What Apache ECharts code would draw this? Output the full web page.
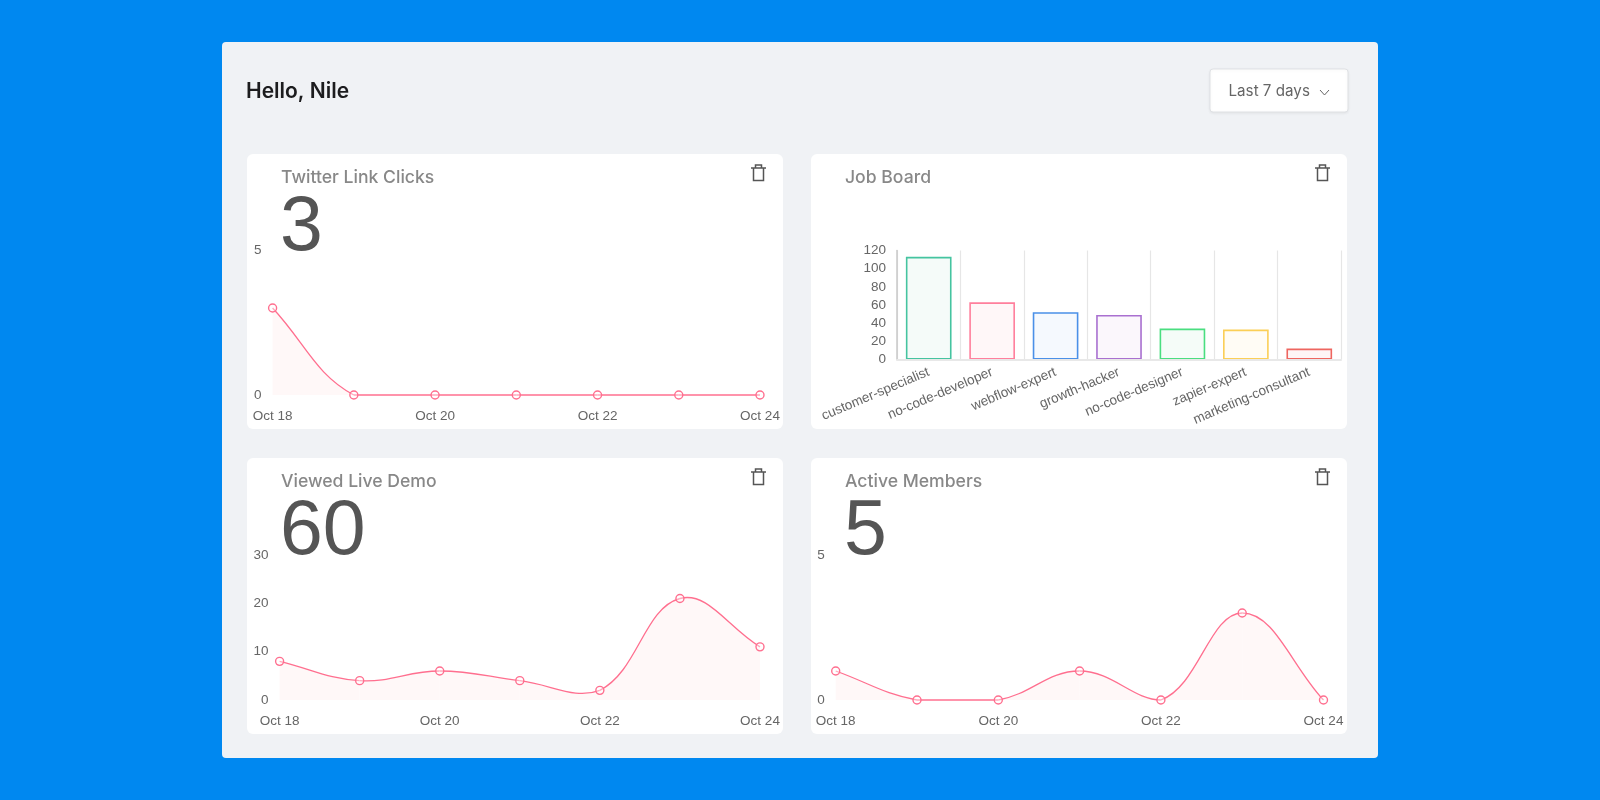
<!DOCTYPE html>
<html>
<head>
<meta charset="utf-8">
<title>Dashboard</title>
<script src="https://cdn.jsdelivr.net/npm/echarts@6/dist/echarts.min.js"></script>
<style>
  html, body { margin: 0; padding: 0; background: #0088f0; }
  #main { width: 1600px; height: 800px; }
</style>
</head>
<body>
<div id="main"></div>
<script>
// chart data
const days = ["Oct 18", "Oct 19", "Oct 20", "Oct 21", "Oct 22", "Oct 23", "Oct 24"];
const twitterClicks = [3, 0, 0, 0, 0, 0, 0];
const liveDemo = [8, 4, 6, 4, 2, 21, 11];
const activeMembers = [1, 0, 0, 1, 0, 3, 0];
const jobNames = ["customer-specialist", "no-code-developer", "webflow-expert", "growth-hacker", "no-code-designer", "zapier-expert", "marketing-consultant"];
const jobValues = [113, 63, 52, 49, 34, 33, 12];
const jobColors = ["#45c4a0", "#ff7f9c", "#4a90e8", "#a970d0", "#4ade80", "#fbcf57", "#ee6660"];
const jobFills = ["#f5fbf9", "#fff7f8", "#f5f9fe", "#fbf7fc", "#f5fcf8", "#fffcf5", "#fef6f6"];

const uiFont = "Inter";
const chartFont = "Liberation Sans";
const pink = "#ff6f8f";
const tension = 0.4;

// the four white cards
const cards = [
  { x: 247, y: 154, title: "Twitter Link Clicks", big: "3" },
  { x: 811, y: 154, title: "Job Board", big: "" },
  { x: 247, y: 458, title: "Viewed Live Demo", big: "60" },
  { x: 811, y: 458, title: "Active Members", big: "5" }
];
const cardW = 536, cardH = 276;

// little bin icon in the card corner
function trashIcon(x, y) {
  const line = { stroke: "#555", fill: null, lineWidth: 1.5 };
  return {
    type: "group", x: x, y: y, z: 2,
    children: [
      { type: "line", shape: { x1: 0, y1: 4, x2: 15, y2: 4 }, style: line, z: 2 },
      { type: "polyline", shape: { points: [[4.5, 4], [4.5, 1], [10.500, 1], [10.500, 4]] }, style: line, z: 2 },
      { type: "polyline", shape: { points: [[2.5, 4], [2.5, 16.500], [12.500, 16.500], [12.500, 4]] }, style: line, z: 2 }
    ]
  };
}

let graphics = [
  { type: "rect", shape: { x: 222, y: 42, width: 1156, height: 716, r: 4 }, style: { fill: "#f0f2f5" }, z: 0 },
  { type: "text", x: 246, y: 92, style: { text: "Hello, Nile", font: "600 21px " + uiFont, fill: "#1c1c1e", verticalAlign: "middle" }, z: 1 },
  { type: "rect", shape: { x: 1210, y: 69, width: 138, height: 43, r: 3 }, style: { fill: "#fff", stroke: "#dfe1e4", lineWidth: 1, shadowBlur: 3, shadowColor: "rgba(0,0,0,0.06)", shadowOffsetY: 1 }, z: 1 },
  { type: "text", x: 1228.5, y: 91, style: { text: "Last 7 days", font: "400 15.2px " + uiFont, fill: "#666", verticalAlign: "middle" }, z: 2 },
  { type: "polyline", shape: { points: [[1320, 90], [1324.5, 95], [1329, 90]] }, style: { stroke: "#666", fill: null, lineWidth: 1 }, z: 2 }
];

cards.forEach(c => {
  graphics.push({ type: "rect", shape: { x: c.x, y: c.y, width: cardW, height: cardH + (c.y > 300 ? 0 : -1), r: 6 }, style: { fill: "#fff" }, z: 1 });
  graphics.push({ type: "text", x: c.x + 34, y: c.y + 24, style: { text: c.title, font: "500 17.6px " + uiFont, fill: "#888", verticalAlign: "middle" }, z: 2 });
  if (c.big) {
    graphics.push({ type: "text", x: c.x + 33, y: c.y + 75, style: { text: c.big, font: "400 77px " + chartFont, fill: "#555", verticalAlign: "middle" }, z: 2 });
  }
  graphics.push(trashIcon(c.x + 504, c.y + 10));
});

// line chart pieces, one per card
const lineGrids = [
  { left: 272.6, right: 1600 - 760, top: 250, height: 145, max: 5, interval: 5, data: twitterClicks },
  { left: 279.6, right: 1600 - 760, top: 555, height: 145, max: 30, interval: 10, data: liveDemo },
  { left: 835.7, right: 1600 - 1323.5, top: 555, height: 145, max: 5, interval: 5, data: activeMembers }
];

// spline like the original dashboard's: tangents may overshoot a point,
// end points aim along the chord, curve stays inside the plot
function splineControls(pts, bottom) {
  return pts.map((p, i) => {
    const prev = pts[i - 1] || p, next = pts[i + 1] || p;
    const d01 = Math.hypot(p[0] - prev[0], p[1] - prev[1]);
    const d12 = Math.hypot(next[0] - p[0], next[1] - p[1]);
    const fa = d01 / (d01 + d12), fb = d12 / (d01 + d12);
    const vx = next[0] - prev[0], vy = next[1] - prev[1];
    return {
      before: [p[0] - fa * tension * vx, Math.min(p[1] - fa * tension * vy, bottom)],
      after: [p[0] + fb * tension * vx, Math.min(p[1] + fb * tension * vy, bottom)]
    };
  });
}

function curveRenderer(values) {
  return function (params, api) {
    const i = params.dataIndex;
    if (i >= values.length - 1) return null;
    const pts = values.map((v, k) => api.coord([k, v]));
    const bottom = api.coord([0, 0])[1];
    const cps = splineControls(pts, bottom);
    const a = pts[i], b = pts[i + 1], c1 = cps[i].after, c2 = cps[i + 1].before;
    // area under this stretch follows the same bezier
    let outline = [];
    for (let s = 0; s <= 24; s++) {
      const t = s / 24, u = 1 - t;
      outline.push([
        u * u * u * a[0] + 3 * u * u * t * c1[0] + 3 * u * t * t * c2[0] + t * t * t * b[0],
        u * u * u * a[1] + 3 * u * u * t * c1[1] + 3 * u * t * t * c2[1] + t * t * t * b[1]
      ]);
    }
    outline.push([b[0], bottom], [a[0], bottom]);
    return {
      type: "group",
      children: [
        { type: "polygon", shape: { points: outline }, style: { fill: "#fff8f8" } },
        { type: "bezierCurve", shape: { x1: a[0], y1: a[1], x2: b[0], y2: b[1], cpx1: c1[0], cpy1: c1[1], cpx2: c2[0], cpy2: c2[1] }, style: { fill: null, stroke: pink, lineWidth: 1.3 } }
      ]
    };
  };
}

let grids = [], xAxes = [], yAxes = [], series = [];

lineGrids.forEach((g, i) => {
  grids.push({ left: g.left, right: g.right, top: g.top, height: g.height });
  xAxes.push({
    type: "category", gridIndex: i, data: days, boundaryGap: false, z: 5,
    axisLine: { show: false }, axisTick: { show: false }, splitLine: { show: false },
    axisLabel: { interval: 1, color: "#666", fontFamily: chartFont, fontSize: 13.5, margin: 14, hideOverlap: false, showMinLabel: true, showMaxLabel: true }
  });
  yAxes.push({
    type: "value", gridIndex: i, min: 0, max: g.max, interval: g.interval, z: 5,
    axisLine: { show: false }, axisTick: { show: false }, splitLine: { show: false },
    axisLabel: { color: "#666", fontFamily: chartFont, fontSize: 13.5, margin: 11 }
  });
  series.push({
    type: "custom", xAxisIndex: i, yAxisIndex: i, z: 3, clip: false,
    data: g.data.map((v, k) => [k, v]),
    encode: { x: 0, y: 1 },
    renderItem: curveRenderer(g.data)
  });
  series.push({
    type: "line", xAxisIndex: i, yAxisIndex: i, data: g.data,
    symbol: "circle", symbolSize: 8, showSymbol: true, z: 4,
    lineStyle: { width: 0 },
    itemStyle: { color: "rgba(255,255,255,0.4)", borderColor: pink, borderWidth: 1.4 }
  });
});

// job board bars
grids.push({ left: 897, right: 1600 - 1341, top: 250.5, height: 109 });
xAxes.push({
  type: "category", gridIndex: 3, data: jobNames, z: 5,
  axisLine: { lineStyle: { color: "#e8e8e8", width: 2 } },
  axisTick: { length: 11, lineStyle: { color: "#e6e6e6", width: 1.2 } },
  splitLine: { show: true, lineStyle: { color: "#e6e6e6", width: 1.2 } },
  axisLabel: { interval: 0, rotate: 23, color: "#666", fontFamily: chartFont, fontSize: 13.5, margin: 12 }
});
yAxes.push({
  type: "value", gridIndex: 3, min: 0, max: 120, interval: 20, z: 5,
  axisLine: { show: true, lineStyle: { color: "#c8c8c8", width: 1.5 } },
  axisTick: { show: false }, splitLine: { show: false },
  axisLabel: { color: "#666", fontFamily: chartFont, fontSize: 13.5, margin: 11 }
});
series.push({
  type: "bar", xAxisIndex: 3, yAxisIndex: 3, barWidth: "72%", z: 3,
  data: jobValues.map((v, i) => ({
    value: v,
    itemStyle: { color: jobFills[i], borderColor: jobColors[i], borderWidth: 1.6 }
  }))
});

echarts.init(document.getElementById("main")).setOption({
  animation: false,
  backgroundColor: "#0088f0",
  graphic: graphics,
  grid: grids,
  xAxis: xAxes,
  yAxis: yAxes,
  series: series
});
</script>
</body>
</html>
